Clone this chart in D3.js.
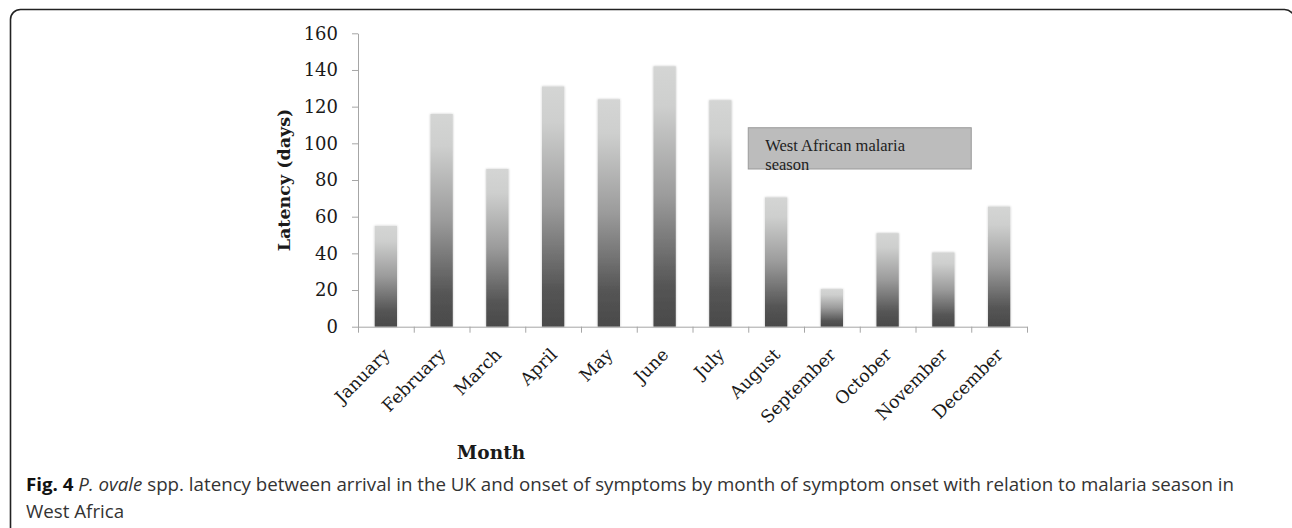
<!DOCTYPE html>
<html>
<head>
<meta charset="utf-8">
<script src="https://d3js.org/d3.v7.min.js"></script>
<style>
  html, body { margin: 0; padding: 0; background: #fff; }
  svg { display: block; }
</style>
</head>
<body>
<svg id="chart" width="1292" height="528"></svg>
<script>
// ---- data ----
const months = ["January","February","March","April","May","June","July","August","September","October","November","December"];
const latency = [55, 116, 86, 131, 124, 142, 123.5, 70.5, 20.5, 51, 40.5, 65.5];
const yTicks = [0, 20, 40, 60, 80, 100, 120, 140, 160];
const yTitle = "Latency (days)";
const xTitle = "Month";
// annotation box: spans category boundaries 7..11, y values 86..108.5
const noteBoundaries = [7, 11];
const noteRange = [86, 108.5];
const noteLines = ["West African malaria", "season"];
const captionBold = "Fig. 4";
const captionItalic = "P. ovale";
const captionRest1 = " spp. latency between arrival in the UK and onset of symptoms by month of symptom onset with relation to malaria season in";
const captionLine2 = "West Africa";

// ---- layout ----
const svg = d3.select("#chart");
const plot = { left: 358, right: 1027, top: 33.3, bottom: 326.7 };

// frame
svg.append("rect")
  .attr("x", 10.5).attr("y", 9.5)
  .attr("width", 1284).attr("height", 540)
  .attr("rx", 10).attr("ry", 10)
  .attr("fill", "none").attr("stroke", "#222").attr("stroke-width", 1.6);

const x = d3.scaleBand().domain(months)
  .range([plot.left, plot.right]).paddingInner(0.6).paddingOuter(0.3);
const xb = d3.scaleLinear().domain([0, months.length]).range([plot.left, plot.right]);
const y = d3.scaleLinear().domain([0, 160]).range([plot.bottom, plot.top]);

// gradient
const defs = svg.append("defs");
const grad = defs.append("linearGradient").attr("id", "barGrad")
  .attr("x1", 0).attr("y1", 0).attr("x2", 0).attr("y2", 1);
[[0, "#d4d5d4"], [0.15, "#cecfce"], [0.5, "#9b9b9b"], [0.85, "#545454"], [1, "#4a4a4a"]]
  .forEach(([o, c]) => grad.append("stop").attr("offset", o).attr("stop-color", c));
const filt = defs.append("filter").attr("id", "soft").attr("x", "-20%").attr("y", "-5%").attr("width", "140%").attr("height", "110%");
filt.append("feDropShadow").attr("dx", 0).attr("dy", 0).attr("stdDeviation", 0.8)
  .attr("flood-color", "#000").attr("flood-opacity", 0.25);

// bars
svg.append("g").selectAll("rect").data(months).join("rect")
  .attr("x", d => x(d))
  .attr("width", x.bandwidth())
  .attr("y", (d, i) => y(latency[i]))
  .attr("height", (d, i) => y(0) - y(latency[i]))
  .attr("fill", "url(#barGrad)")
  .attr("filter", "url(#soft)");

// y axis
const yAxis = svg.append("g").attr("transform", `translate(${plot.left},0)`)
  .call(d3.axisLeft(y).tickValues(yTicks).tickSize(6).tickPadding(14).tickSizeOuter(0));
yAxis.select(".domain").attr("stroke", "#a6a6a6");
yAxis.selectAll(".tick line").attr("stroke", "#a6a6a6");
yAxis.selectAll(".tick text")
  .attr("font-family", "DejaVu Serif").attr("font-size", 18).attr("fill", "#1a1a1a");

// x axis (boundary ticks)
const xAxis = svg.append("g").attr("transform", `translate(0,${plot.bottom})`)
  .call(d3.axisBottom(xb).tickValues(d3.range(0, months.length + 1)).tickSize(6).tickFormat("").tickSizeOuter(0));
xAxis.select(".domain").attr("stroke", "#a6a6a6");
xAxis.selectAll(".tick line").attr("stroke", "#a6a6a6");

// month labels
svg.append("g").selectAll("text").data(months).join("text")
  .attr("transform", d => `translate(${x(d) + x.bandwidth() / 2 + 5},${plot.bottom + 29}) rotate(-45)`)
  .attr("text-anchor", "end")
  .attr("font-family", "DejaVu Serif").attr("font-size", 17.5).attr("fill", "#1a1a1a")
  .text(d => d);

// axis titles
svg.append("text")
  .attr("transform", `translate(290,${(plot.top + plot.bottom) / 2}) rotate(-90)`)
  .attr("text-anchor", "middle")
  .attr("font-family", "DejaVu Serif").attr("font-weight", "bold").attr("font-size", 17.5).attr("fill", "#1a1a1a")
  .text(yTitle);
svg.append("text")
  .attr("x", 491).attr("y", 459)
  .attr("text-anchor", "middle")
  .attr("font-family", "DejaVu Serif").attr("font-weight", "bold").attr("font-size", 18.5).attr("fill", "#1a1a1a")
  .text(xTitle);

// annotation
const nx0 = xb(noteBoundaries[0]), nx1 = xb(noteBoundaries[1]);
const ny0 = y(noteRange[1]), ny1 = y(noteRange[0]);
svg.append("rect")
  .attr("x", nx0).attr("y", ny0).attr("width", nx1 - nx0).attr("height", ny1 - ny0)
  .attr("fill", "#bcbcbc").attr("stroke", "#9a9a9a").attr("stroke-width", 1);
svg.append("g").selectAll("text").data(noteLines).join("text")
  .attr("x", nx0 + 17).attr("y", (d, i) => ny0 + 23 + i * 19)
  .attr("font-family", "Liberation Serif").attr("font-size", 16.5).attr("fill", "#222")
  .text(d => d);

// caption (render larger, then squeeze horizontally to the figure's condensed look)
const capG = svg.append("g");
const cap = capG.append("text").attr("x", 0).attr("y", 491.5)
  .attr("font-family", "Open Sans").attr("font-size", 18).attr("fill", "#333");
cap.append("tspan").attr("font-weight", "bold").attr("fill", "#111").text(captionBold);
cap.append("tspan").text(" ");
cap.append("tspan").attr("font-style", "italic").text(captionItalic);
cap.append("tspan").text(captionRest1);
capG.append("text").attr("x", 0).attr("y", 518)
  .attr("font-family", "Open Sans").attr("font-size", 18).attr("fill", "#333")
  .text(captionLine2);
const targetW = 1209;
const w = cap.node().getComputedTextLength();
capG.attr("transform", `translate(26,0) scale(${targetW / w},1)`);
</script>
</body>
</html>
